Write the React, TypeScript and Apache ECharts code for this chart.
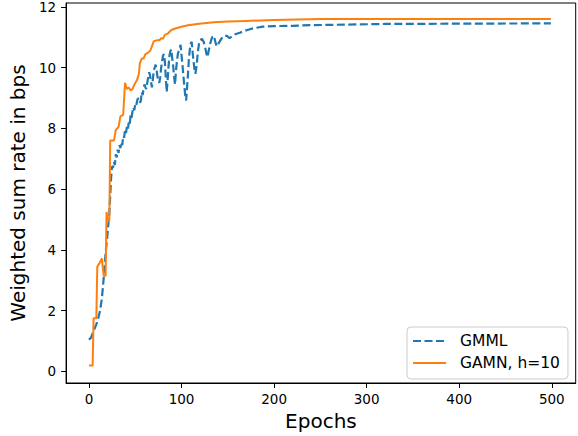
import React, { useEffect, useRef } from "react";
import * as echarts from "echarts";

const gmmlEpochs = [0, 2, 4, 6, 8, 10, 12, 14, 16, 18, 20, 22, 23, 24, 25, 26, 27, 28, 29, 30, 31, 32, 33, 34, 35, 36, 37, 38, 39, 40, 41, 42, 43, 44, 45, 46, 47, 48, 49, 50, 51, 52, 53, 54, 55, 56, 57, 58, 59, 60, 61, 62, 63, 64, 65, 66, 67, 68, 69, 70, 71, 72, 73, 74, 75, 76, 77, 78, 79, 80, 81, 82, 83, 84, 85, 86, 87, 88, 89, 90, 91, 92, 93, 94, 95, 96, 97, 98, 99, 100, 101, 102, 103, 104, 105, 106, 107, 108, 109, 110, 111, 112, 113, 114, 115, 116, 117, 118, 119, 120, 122, 124, 126, 127, 128, 129, 131, 133, 135, 137, 138, 140, 142, 144, 146, 149, 152, 155, 158, 163, 167, 172, 178, 188, 200, 220, 240, 280, 320, 400, 499];
const gmmlRates = [1.05, 1.1, 1.25, 1.4, 1.55, 1.75, 2.0, 2.4, 3.1, 3.9, 4.5, 5.2, 5.8, 6.4, 6.75, 6.7, 6.9, 6.8, 7.15, 7.05, 7.3, 7.2, 7.45, 7.35, 7.55, 7.45, 7.75, 7.7, 7.95, 7.85, 8.05, 7.95, 8.2, 8.1, 8.45, 8.35, 8.55, 8.7, 8.6, 8.8, 8.75, 8.9, 9.0, 8.95, 8.85, 8.9, 9.2, 9.1, 9.3, 9.45, 9.35, 9.3, 9.5, 9.68, 9.85, 9.75, 9.55, 9.35, 9.6, 9.9, 10.0, 10.1, 9.95, 9.7, 9.6, 9.5, 9.68, 10.0, 10.2, 10.4, 10.45, 10.2, 9.7, 9.2, 9.6, 10.05, 10.4, 10.55, 10.6, 10.3, 10.05, 9.7, 9.45, 9.9, 10.2, 10.45, 10.55, 10.65, 10.75, 10.4, 10.1, 9.75, 9.4, 9.1, 8.92, 9.35, 9.8, 10.3, 10.6, 10.8, 10.85, 10.5, 10.2, 9.95, 9.8, 10.0, 10.3, 10.6, 10.8, 10.9, 10.95, 10.85, 10.6, 10.45, 10.35, 10.5, 10.8, 11.0, 11.05, 10.8, 10.7, 10.8, 10.9, 11.0, 11.05, 11.05, 10.97, 11.05, 11.1, 11.15, 11.2, 11.25, 11.3, 11.35, 11.37, 11.38, 11.4, 11.42, 11.44, 11.45, 11.46];

const gamnEpochs = [0, 4, 5, 8, 9, 12, 14, 15, 16, 18, 19, 20, 22, 23, 27, 29, 32, 34, 37, 39, 41, 43, 45, 47, 50, 52, 54, 55, 57, 59, 61, 64, 66, 68, 70, 73, 76, 78, 80, 82, 85, 89, 94, 100, 107, 117, 124, 135, 150, 170, 200, 250, 499];
const gamnRates = [0.2, 0.2, 1.75, 1.75, 3.45, 3.6, 3.72, 3.4, 3.15, 3.15, 5.25, 5.0, 4.95, 7.6, 7.6, 7.95, 8.05, 8.4, 8.45, 9.5, 9.3, 9.35, 9.25, 9.3, 9.5, 9.6, 9.8, 10.15, 10.3, 10.3, 10.45, 10.5, 10.55, 10.7, 10.87, 10.9, 10.9, 10.97, 10.95, 11.08, 11.12, 11.24, 11.3, 11.35, 11.4, 11.44, 11.46, 11.5, 11.52, 11.54, 11.57, 11.6, 11.6];

const xTicks = [0, 100, 200, 300, 400, 500];
const yTicks = [0, 2, 4, 6, 8, 10, 12];

const FONT = "DejaVu Sans";

export default function App() {
  const ref = useRef<HTMLDivElement>(null);
  useEffect(() => {
    document.body.style.margin = "0";
    const chart = echarts.init(ref.current!, null, { renderer: "svg" });
    const gmml = gmmlEpochs.map((e, i) => [e, gmmlRates[i]]);
    const gamn = gamnEpochs.map((e, i) => [e, gamnRates[i]]);
    chart.setOption({
      animation: false,
      backgroundColor: "#ffffff",
      grid: {
        left: 56,
        right: 2.3,
        top: 1,
        bottom: 49.3,
        show: true,
        borderColor: "#000",
        borderWidth: 1,
        backgroundColor: "transparent",
      },
      xAxis: {
        type: "value",
        min: -24.7,
        max: 525.8,
        name: "Epochs",
        nameLocation: "middle",
        nameGap: 28,
        nameTextStyle: { fontFamily: FONT, fontSize: 20, color: "#000" },
        axisLine: { show: true, onZero: false, lineStyle: { color: "#000", width: 1 } },
        axisTick: { show: true, length: 5, lineStyle: { color: "#000" }, customValues: xTicks },
        axisLabel: { fontFamily: FONT, fontSize: 13.5, color: "#000", margin: 9, customValues: xTicks },
        splitLine: { show: false },
      },
      yAxis: {
        type: "value",
        min: -0.38,
        max: 12.13,
        name: "Weighted sum rate in bps",
        nameLocation: "middle",
        nameGap: 37,
        nameTextStyle: { fontFamily: FONT, fontSize: 20, color: "#000" },
        axisLine: { show: true, onZero: false, lineStyle: { color: "#000", width: 1 } },
        axisTick: { show: true, length: 5, lineStyle: { color: "#000" }, customValues: yTicks },
        axisLabel: { fontFamily: FONT, fontSize: 13.5, color: "#000", margin: 10, customValues: yTicks },
        splitLine: { show: false },
      },
      legend: {
        orient: "vertical",
        left: 407,
        top: 327,
        padding: [6, 8, 8, 5],
        itemWidth: 33,
        itemHeight: 16,
        itemGap: 6,
        borderColor: "#cccccc",
        borderWidth: 1,
        borderRadius: 4,
        backgroundColor: "rgba(255,255,255,0.8)",
        itemStyle: { opacity: 0 },
        textStyle: { fontFamily: FONT, fontSize: 15.5, color: "#000", padding: [0, 0, 0, 9] },
        data: ["GMML", "GAMN, h=10"],
      },
      series: [
        {
          name: "GMML",
          type: "line",
          data: gmml,
          showSymbol: false,
          symbol: "none",
          color: "#1f77b4",
          lineStyle: { color: "#1f77b4", width: 2.2, type: [8, 3.5] },
        },
        {
          name: "GAMN, h=10",
          type: "line",
          data: gamn,
          showSymbol: false,
          symbol: "none",
          color: "#ff7f0e",
          lineStyle: { color: "#ff7f0e", width: 2, type: "solid" },
        },
      ],
    });
    return () => chart.dispose();
  }, []);
  return <div ref={ref} style={{ width: 578, height: 436 }} />;
}
